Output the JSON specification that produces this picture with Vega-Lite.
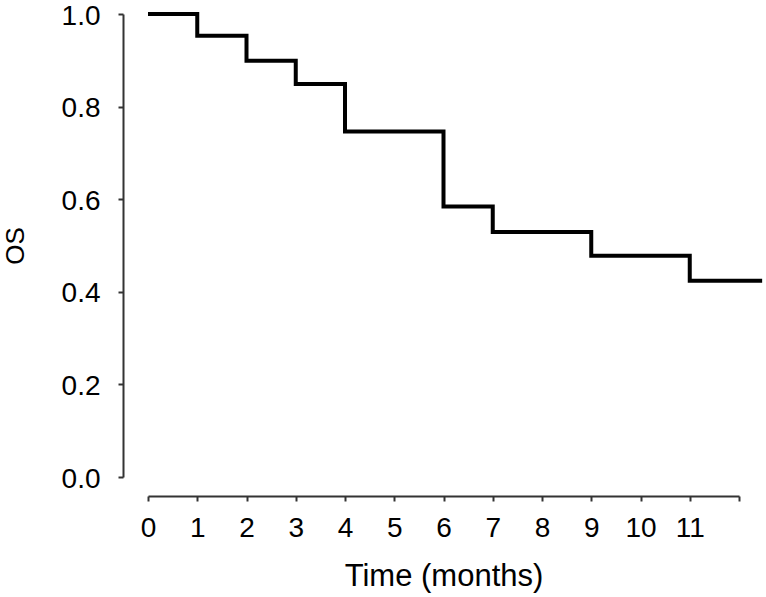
{
  "$schema": "https://vega.github.io/schema/vega-lite/v6.json",
  "width": 591,
  "height": 463,
  "autosize": {"type": "none"},
  "padding": {"left": 148, "top": 14, "right": 27, "bottom": 120},
  "background": "white",
  "config": {
    "view": {"stroke": null},
    "font": "Liberation Sans",
    "axis": {
      "grid": false,
      "domainColor": "#333333",
      "domainWidth": 2,
      "tickColor": "#333333",
      "tickWidth": 2,
      "tickSize": 5,
      "labelColor": "black",
      "labelFont": "Liberation Sans",
      "labelFontSize": 28,
      "titleColor": "black",
      "titleFont": "Liberation Sans",
      "titleFontWeight": "normal"
    }
  },
  "data": {
    "values": [
      {"time": 0, "os": 1.0},
      {"time": 1, "os": 0.953},
      {"time": 2, "os": 0.899},
      {"time": 3, "os": 0.849},
      {"time": 4, "os": 0.746},
      {"time": 6, "os": 0.584},
      {"time": 7, "os": 0.529},
      {"time": 9, "os": 0.478},
      {"time": 11, "os": 0.424},
      {"time": 12.47, "os": 0.424}
    ]
  },
  "mark": {"type": "line", "interpolate": "step-after", "color": "black", "strokeWidth": 4, "clip": false},
  "encoding": {
    "x": {
      "field": "time",
      "type": "quantitative",
      "scale": {"domain": [0, 12], "nice": false, "zero": true},
      "axis": {
        "title": "Time (months)",
        "titleFontSize": 31,
        "offset": 19,
        "values": [0, 1, 2, 3, 4, 5, 6, 7, 8, 9, 10, 11, 12],
        "labelExpr": "datum.value == 12 ? '' : datum.label",
        "labelFlush": false,
        "labelOverlap": false,
        "labelPadding": 13,
        "titlePadding": 19
      }
    },
    "y": {
      "field": "os",
      "type": "quantitative",
      "scale": {"domain": [0, 1], "nice": false},
      "axis": {
        "title": "OS",
        "titleFontSize": 26,
        "offset": 25,
        "values": [0, 0.2, 0.4, 0.6, 0.8, 1.0],
        "format": ".1f",
        "labelFlush": false,
        "labelOffset": 2,
        "labelPadding": 18,
        "titlePadding": 33
      }
    }
  }
}
